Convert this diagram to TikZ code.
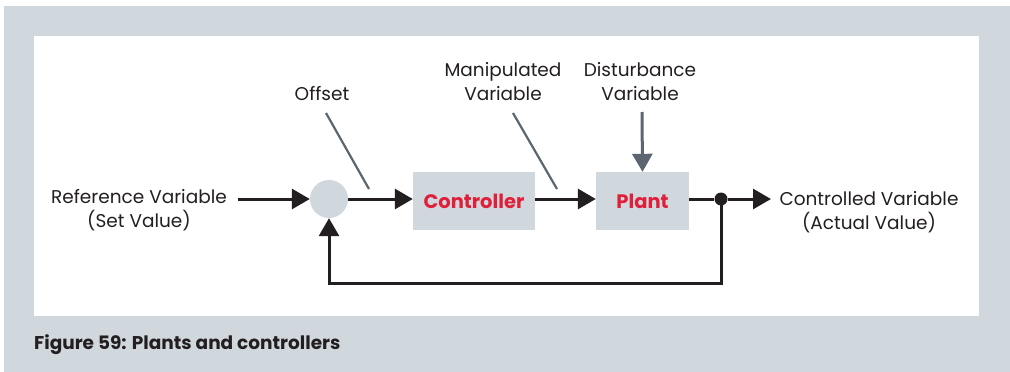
\documentclass[tikz,border=0pt]{standalone}
\usepackage{fontspec}
\setmainfont{Poppins}
\usetikzlibrary{arrows.meta}
\definecolor{bggray}{HTML}{D0D7DD}
\definecolor{inkblack}{HTML}{231F20}
\definecolor{slate}{HTML}{5B6670}
\definecolor{plantred}{HTML}{E0203A}
\begin{document}
\begin{tikzpicture}[x=1pt,y=-1pt,
  lbl/.style={font=\fontsize{18.5}{24}\selectfont, text=inkblack, align=center, inner sep=0pt},
  blk/.style={fill=bggray, draw=none, font=\fontsize{19.5}{22}\selectfont\bfseries, text=plantred, inner sep=0pt},
  flow/.style={draw=inkblack, line width=3pt, -{Triangle[length=18pt,width=20pt]}},
  fline/.style={draw=inkblack, line width=3pt},
  pointer/.style={draw=slate, line width=2.2pt},
  darrow/.style={draw=slate, line width=3pt, -{Triangle[length=18pt,width=20pt]}}]
\useasboundingbox (0,0) rectangle (1010,372);
\fill[white] (0,0) rectangle (1010,372);
\fill[bggray] (4,6) rectangle (1010,372);
\fill[white] (34,36) rectangle (979,316);
% blocks
\node[circle, fill=bggray, minimum size=38pt, inner sep=0pt] (sum) at (329,199) {};
\node[blk, minimum width=122pt, minimum height=58pt] (ctrl) at (474,201) {Controller};
\node[blk, minimum width=93pt, minimum height=58pt] (plant) at (642.5,201) {Plant};
\node[circle, fill=inkblack, minimum size=13pt, inner sep=0pt] (dot) at (721,199) {};
% labels
\node[lbl] (ref) at (139,210) {Reference Variable\\(Set Value)};
\node[lbl] (out) at (869,212) {Controlled Variable\\(Actual Value)};
\node[lbl] (off) at (322,94) {Offset};
\node[lbl] (manip) at (503,82) {Manipulated\\Variable};
\node[lbl] (dist) at (640,82) {Disturbance\\Variable};
% coordinates
\coordinate (refend) at (238,199);
\coordinate (outtip) at (771,199);
\coordinate (fbc) at (721,283);
\coordinate (fbl) at (329,283);
\coordinate (offa) at (326,113);
\coordinate (offb) at (369,189);
\coordinate (mana) at (513,113);
\coordinate (manb) at (557,189);
\coordinate (dista) at (642,112);
% connectors
\draw[flow] (refend) -- (sum.west);
\draw[flow] (sum.east) -- (ctrl.west |- sum.east);
\draw[flow] (ctrl.east |- sum.east) -- (plant.west |- sum.east);
\draw[fline] (plant.east |- dot) -- (dot);
\draw[flow] (dot) -- (outtip);
\draw[flow] (dot.center) -- (fbc) -- (fbl) -- (sum.south);
\draw[pointer] (offa) -- (offb);
\draw[pointer] (mana) -- (manb);
\draw[darrow] (dista) -- (plant.north);
% caption
\node[anchor=west, inner sep=0pt, font=\fontsize{18.5}{20}\selectfont\bfseries, text=inkblack] (cap) at (34,345) {Figure 59: Plants and controllers};
\end{tikzpicture}
\end{document}
